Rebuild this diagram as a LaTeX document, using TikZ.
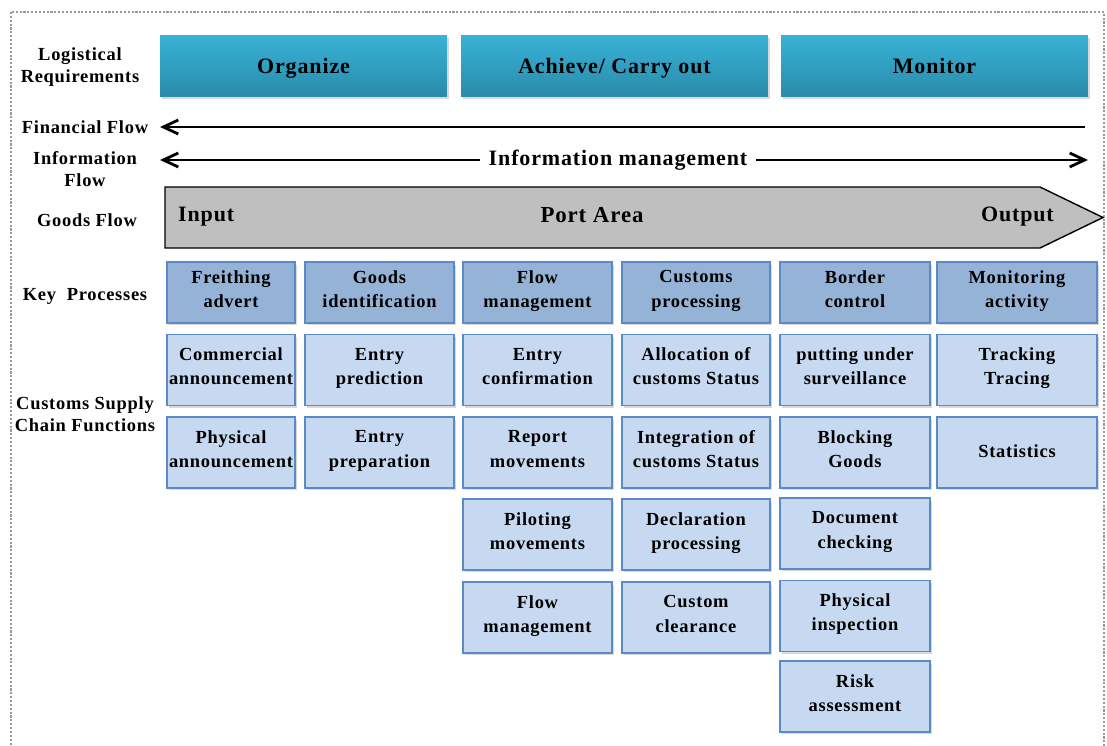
\documentclass[tikz,border=0pt]{standalone}
\usepackage{fontspec}
\setmainfont{Liberation Serif}[LetterSpace=4]
\usetikzlibrary{positioning,shadows,arrows.meta}
\definecolor{reqtop}{HTML}{38B3D7}
\definecolor{reqbot}{HTML}{2A8AAA}
\definecolor{keyfill}{HTML}{95B3D7}
\definecolor{funcfill}{HTML}{C6D9F1}
\definecolor{boxline}{HTML}{5B8BC6}
\definecolor{goodsfill}{HTML}{BFBFBF}
\tikzset{req/.style={rectangle,top color=reqtop,bottom color=reqbot,minimum width=#1,minimum height=1.24cm,font=\bfseries\fontsize{12.5}{14}\selectfont,text height=8.5pt,text depth=0pt,drop shadow={opacity=0.3,shadow xshift=0.04cm,shadow yshift=-0.05cm}}}
\tikzset{keybox/.style={rectangle,draw=boxline,line width=1pt,fill=keyfill,minimum width=#1,minimum height=1.22cm,align=center,inner sep=1pt,font=\bfseries\fontsize{10.5}{13.8}\selectfont,execute at begin node=\strut,execute at end node=\strut,drop shadow={opacity=0.3,shadow xshift=0.04cm,shadow yshift=-0.05cm}}}
\tikzset{funcbox/.style={keybox=#1,fill=funcfill,minimum height=1.42cm}}
\tikzset{lbl/.style={align=center,inner sep=0pt,font=\bfseries\fontsize{10.5}{12.5}\selectfont}}
\tikzset{flow/.style={line width=1.7pt,arrows={-Straight Barb[length=3mm,width=2.8mm,line width=1.6pt]}}}
\tikzset{flowboth/.style={line width=1.7pt,arrows={Straight Barb[length=3mm,width=2.8mm,line width=1.6pt]-Straight Barb[length=3mm,width=2.8mm,line width=1.6pt]}}}

\begin{document}
\begin{tikzpicture}[x=0.02cm,y=-0.02cm]
    \useasboundingbox (0,0) rectangle (1107,746);
    \draw[densely dotted,line width=1.2pt,black!40] (11,12) rectangle (1104,770);

    % left column
    \node[lbl] (lreq)at (80,67) {Logistical\\Requirements};
    \node[lbl] (lfin)at (85,127) {Financial Flow};
    \node[lbl] (linf)at (85,169) {Information\\Flow};
    \node[lbl] (lgoods)at (87,220) {Goods Flow};
    \node[lbl] (lkey)at (85,296) {Key~~Processes};
    \node[lbl] (lfunc)at (85,414) {Customs Supply\\Chain Functions};

    % logistical requirements
    \node[req=5.74cm] (org)at (303.5,66) {Organize};
    \node[req=6.14cm] (ach)at (614.5,66) {Achieve/ Carry out};
    \node[req=6.14cm] (mon)at (934.5,66) {Monitor};

    % financial and information flow
    \coordinate (finR)at (1085,127);
    \coordinate (finL)at (160,127);
    \draw [flow] (finR) to (finL);
    \coordinate (infL)at (160,160);
    \coordinate (infR)at (1088,160);
    \draw [flowboth] (infL) to (infR);
    \node[fill=white,inner xsep=5pt,font=\bfseries\fontsize{12.5}{14}\selectfont] (infotext)at (618,160) {Information management};

    % goods flow
    \draw [fill=goodsfill,line width=0.8pt] (165,187) -- (1040,187) -- (1103,217.5) -- (1040,248) -- (165,248) -- cycle;
    \node[anchor=west,font=\bfseries\fontsize{12.5}{14}\selectfont] (input)at (172,217) {Input};
    \node[font=\bfseries\fontsize{13}{15}\selectfont] (port)at (592,215) {Port Area};
    \node[anchor=east,font=\bfseries\fontsize{12.5}{14}\selectfont] (output)at (1060,217) {Output};

    % key processes
    \node[keybox=2.56cm] (k1)at (231,292.5) {Freithing\\advert};
    \node[keybox=2.98cm] (k2)at (379.5,292.5) {Goods\\identification};
    \node[keybox=2.98cm] (k3)at (537.5,292.5) {Flow\\management};
    \node[keybox=2.96cm] (k4)at (696,292.5) {Customs\\processing};
    \node[keybox=3.00cm] (k5)at (855,292.5) {Border\\control};
    \node[keybox=3.20cm] (k6)at (1017,292.5) {Monitoring\\activity};

    % supply chain functions
    \node[funcbox=2.56cm] (f11)at (231,370) {Commercial\\announcement};
    \node[funcbox=2.56cm] (f12)at (231,452.5) {Physical\\announcement};
    \node[funcbox=2.98cm] (f21)at (379.5,370) {Entry\\prediction};
    \node[funcbox=2.98cm] (f22)at (379.5,452.5) {Entry\\preparation};
    \node[funcbox=2.98cm] (f31)at (537.5,370) {Entry\\confirmation};
    \node[funcbox=2.98cm] (f32)at (537.5,452.5) {Report\\movements};
    \node[funcbox=2.98cm] (f33)at (537.5,534.5) {Piloting\\movements};
    \node[funcbox=2.98cm] (f34)at (537.5,617.5) {Flow\\management};
    \node[funcbox=2.96cm] (f41)at (696,370) {Allocation of\\customs Status};
    \node[funcbox=2.96cm] (f42)at (696,452.5) {Integration of\\customs Status};
    \node[funcbox=2.96cm] (f43)at (696,534.5) {Declaration\\processing};
    \node[funcbox=2.96cm] (f44)at (696,617.5) {Custom\\clearance};
    \node[funcbox=3.00cm] (f51)at (855,370) {putting under\\surveillance};
    \node[funcbox=3.00cm] (f52)at (855,452.5) {Blocking\\Goods};
    \node[funcbox=3.00cm] (f53)at (855,533.5) {Document\\checking};
    \node[funcbox=3.00cm] (f54)at (855,616) {Physical\\inspection};
    \node[funcbox=3.00cm] (f55)at (855,696.5) {Risk\\assessment};
    \node[funcbox=3.20cm] (f61)at (1017,370) {Tracking\\Tracing};
    \node[funcbox=3.20cm] (f62)at (1017,452.5) {Statistics};
\end{tikzpicture}
\end{document}
